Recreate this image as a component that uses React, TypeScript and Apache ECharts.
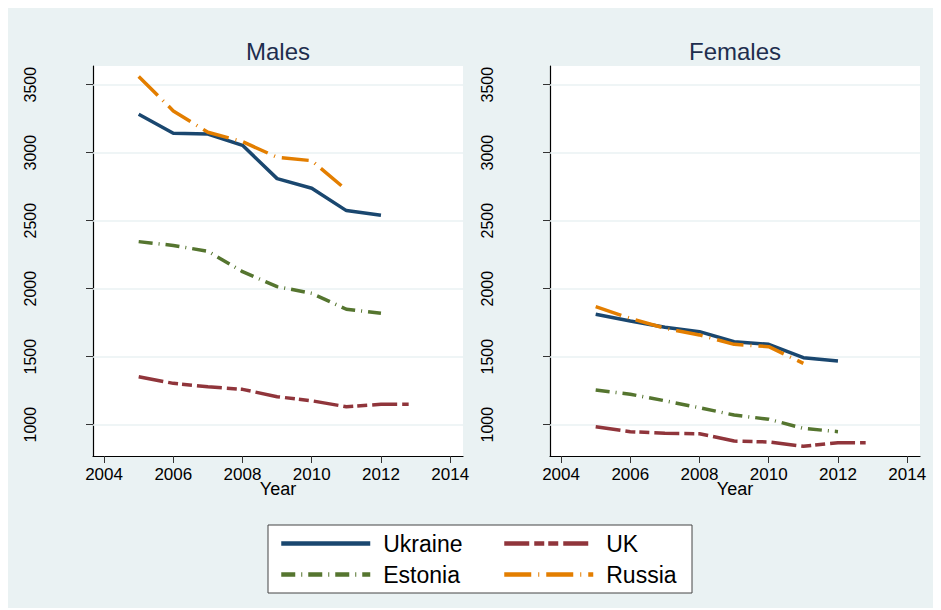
import React, { useEffect, useRef } from "react";
import * as echarts from "echarts";

const panels = ["Males", "Females"];
const countries = ["Ukraine", "UK", "Estonia", "Russia"];

const years = [2005, 2006, 2007, 2008, 2009, 2010, 2011, 2012];
const russiaYears = [2005, 2006, 2007, 2008, 2009, 2010, 2011];
const ukYears = [2005, 2006, 2007, 2008, 2009, 2010, 2011, 2012, 2012.8];

const xTicks = [2004, 2006, 2008, 2010, 2012, 2014];
const yTicks = [1000, 1500, 2000, 2500, 3000, 3500];

const ukraineMales = [3282, 3143, 3137, 3054, 2809, 2738, 2574, 2540];
const ukMales = [1353, 1304, 1279, 1260, 1206, 1176, 1132, 1150, 1150];
const estoniaMales = [2346, 2318, 2275, 2125, 2015, 1966, 1849, 1819];
const russiaMales = [3560, 3307, 3150, 3081, 2966, 2941, 2726];

const ukraineFemales = [1812, 1763, 1716, 1684, 1610, 1591, 1493, 1468];
const ukFemales = [985, 949, 937, 934, 880, 873, 841, 868, 868];
const estoniaFemales = [1255, 1224, 1176, 1125, 1071, 1040, 973, 949];
const russiaFemales = [1868, 1782, 1709, 1660, 1591, 1574, 1451];

const FONT = '"Liberation Sans", Arial, Helvetica, sans-serif';
const BG = "#eaf2f3";

const colors: Record<string, string> = {
  Ukraine: "#1a476f",
  UK: "#90353b",
  Estonia: "#55752f",
  Russia: "#e37e00",
};
const dashes: Record<string, any> = {
  Ukraine: "solid",
  UK: [25, 5, 10, 4, 10, 5],
  Estonia: [14, 6, 1, 6],
  Russia: [27, 7, 1, 7],
};

const zip = (xs: number[], ys: number[]) => xs.map((x, i) => [x, ys[i]]);

export default function App() {
  const ref = useRef<HTMLDivElement>(null);
  useEffect(() => {
    const chart = echarts.init(ref.current!, null, { renderer: "svg" });
    const gridLefts = [85, 542];
    const panelData: Record<string, number[][]>[] = [
      {
        Ukraine: zip(years, ukraineMales),
        UK: zip(ukYears, ukMales),
        Estonia: zip(years, estoniaMales),
        Russia: zip(russiaYears, russiaMales),
      },
      {
        Ukraine: zip(years, ukraineFemales),
        UK: zip(ukYears, ukFemales),
        Estonia: zip(years, estoniaFemales),
        Russia: zip(russiaYears, russiaFemales),
      },
    ];

    const series: any[] = [];
    panels.forEach((_, i) => {
      countries.forEach((c, k) => {
        series.push({
          type: "line",
          name: c,
          xAxisIndex: i,
          yAxisIndex: i,
          data: panelData[i][c],
          symbol: "none",
          showSymbol: false,
          z: 3,
          lineStyle: { color: colors[c], width: 3.5, type: dashes[c], cap: "butt" },
          itemStyle: { color: colors[c] },
          markLine:
            k === 0
              ? {
                  z: 1,
                  silent: true,
                  symbol: "none",
                  label: { show: false },
                  lineStyle: { color: BG, width: 1.5, type: "solid" },
                  data: yTicks.map((v) => ({ yAxis: v })),
                }
              : undefined,
        });
      });
    });

    const legendCommon = {
      orient: "vertical",
      top: 524,
      padding: 0,
      itemWidth: 89,
      itemHeight: 24,
      itemGap: 8,
      selectedMode: false,
      z: 5,
      lineStyle: { width: 4.5 },
      itemStyle: { opacity: 0, borderWidth: 0 },
      textStyle: {
        fontSize: 23,
        color: "#000",
        fontFamily: FONT,
        padding: [0, 0, 0, 8],
      },
    };

    const option: any = {
      animation: false,
      backgroundColor: BG,
      textStyle: { fontFamily: FONT },
      title: panels.map((p, i) => ({
        text: p,
        left: gridLefts[i] + 185,
        top: 31,
        padding: 0,
        textAlign: "center",
        textStyle: { fontSize: 24, fontWeight: "normal", color: "#1e2e4e", fontFamily: FONT },
      })),
      grid: gridLefts.map((l) => ({
        left: l,
        top: 58,
        width: 370,
        height: 390,
        show: true,
        backgroundColor: "#ffffff",
        borderWidth: 0,
      })),
      xAxis: panels.map((_, i) => ({
        type: "value",
        gridIndex: i,
        min: 2003.68,
        max: 2014.37,
        name: "Year",
        nameLocation: "middle",
        nameGap: 24,
        nameMoveOverlap: false,
        nameTextStyle: { fontSize: 18, color: "#000", fontFamily: FONT },
        axisLine: { show: true, onZero: false, lineStyle: { color: "#000", width: 1.2 } },
        axisTick: { show: true, length: 7, customValues: xTicks, lineStyle: { color: "#333" } },
        axisLabel: {
          customValues: xTicks,
          fontSize: 17,
          color: "#000",
          margin: 10,
          fontFamily: FONT,
          formatter: (v: number) => String(v),
        },
        splitLine: { show: false },
      })),
      yAxis: panels.map((_, i) => ({
        type: "value",
        gridIndex: i,
        min: 770,
        max: 3637,
        axisLine: { show: true, onZero: false, lineStyle: { color: "#000", width: 1.2 } },
        axisTick: { show: true, length: 7, customValues: yTicks, lineStyle: { color: "#333" } },
        axisLabel: {
          customValues: yTicks,
          rotate: 90,
          fontSize: 16,
          color: "#000",
          margin: 55,
          fontFamily: FONT,
          formatter: (v: number) => String(v),
        },
        splitLine: { show: false },
      })),
      legend: [
        { ...legendCommon, left: 271, data: ["Ukraine", "Estonia"] },
        { ...legendCommon, left: 494, data: ["UK", "Russia"] },
      ],
      graphic: [
        {
          type: "rect",
          z: 0,
          shape: { x: 260, y: 517, width: 424, height: 68 },
          style: { fill: "#ffffff", stroke: "#444", lineWidth: 1 },
        },
      ],
      series,
    };
    chart.setOption(option);
    return () => chart.dispose();
  }, []);
  return <div ref={ref} style={{ width: 930, height: 600 }} />;
}
